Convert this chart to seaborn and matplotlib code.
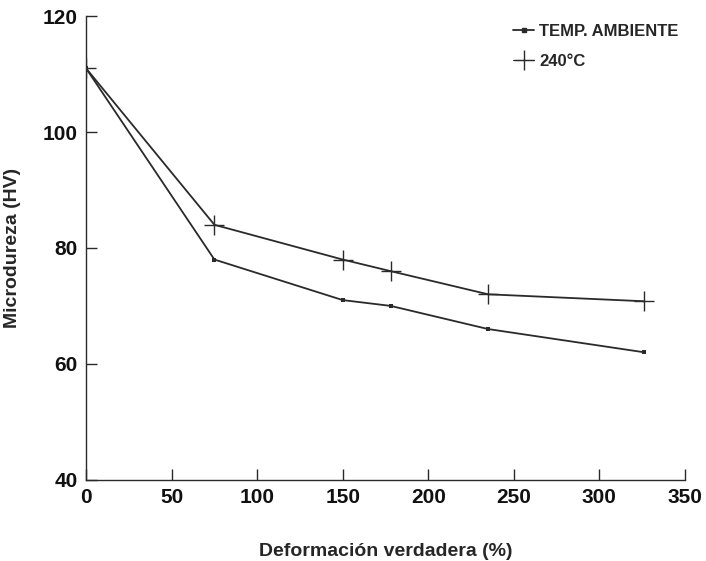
import pandas as pd
import matplotlib
matplotlib.use('Agg')
import matplotlib.pyplot as plt
import seaborn as sns
from matplotlib.lines import Line2D

# Données
deformacion = [0, 75, 150, 178, 235, 326]
hv_ambiente = [111, 78, 71, 70, 66, 62]
hv_240 = [111, 84, 78, 76, 72, 70.8]
series = ['TEMP. AMBIENTE', '240°C']

x_ticks = [0, 50, 100, 150, 200, 250, 300, 350]
y_ticks = [40, 60, 80, 100, 120]

sns.set_style('white')
plt.rcParams['font.family'] = ['Liberation Sans', 'DejaVu Sans']

fig = plt.figure(figsize=(7.06, 5.61), dpi=100)
ax = fig.add_axes([0.122, 0.145, 0.848, 0.826])

col = '#2a2a2a'
sns.lineplot(x=deformacion, y=hv_ambiente, color=col, marker='s', markersize=3.5,
             markeredgewidth=0, linewidth=1.3, ax=ax)
sns.lineplot(x=deformacion, y=hv_240, color=col, marker='+', markersize=14,
             markeredgewidth=1.0, markeredgecolor=col, linewidth=1.3, ax=ax)

ax.set_xlim(0, 350)
ax.set_ylim(40, 120)
ax.set_xticks(x_ticks)
ax.set_yticks(y_ticks)
ax.tick_params(bottom=True, left=True, direction='in', length=8, width=1,
               colors=col, labelcolor='#111111', labelsize=15, pad=6)
for lab in ax.get_xticklabels() + ax.get_yticklabels():
    lab.set_fontweight('bold')

sns.despine(ax=ax)
for s in ['left', 'bottom']:
    ax.spines[s].set_color(col)
    ax.spines[s].set_linewidth(1.0)

ax.set_xlabel('Deformación verdadera (%)', fontsize=14, fontweight='bold', labelpad=26)
ax.set_ylabel('Microdureza (HV)', fontsize=14, fontweight='bold', labelpad=16)

# légende manuelle
handles = [
    Line2D([], [], color=col, marker='s', markersize=3.5, linewidth=1.3),
    Line2D([], [], color=col, marker='+', markersize=14, linewidth=0.8),
]
ax.legend(handles, series, loc='upper right', bbox_to_anchor=(1.015, 1.015),
          frameon=False, handlelength=1.3, handletextpad=0.3,
          labelspacing=0.9, prop={'weight': 'bold', 'size': 12})

fig.savefig('out.png', dpi=100)
